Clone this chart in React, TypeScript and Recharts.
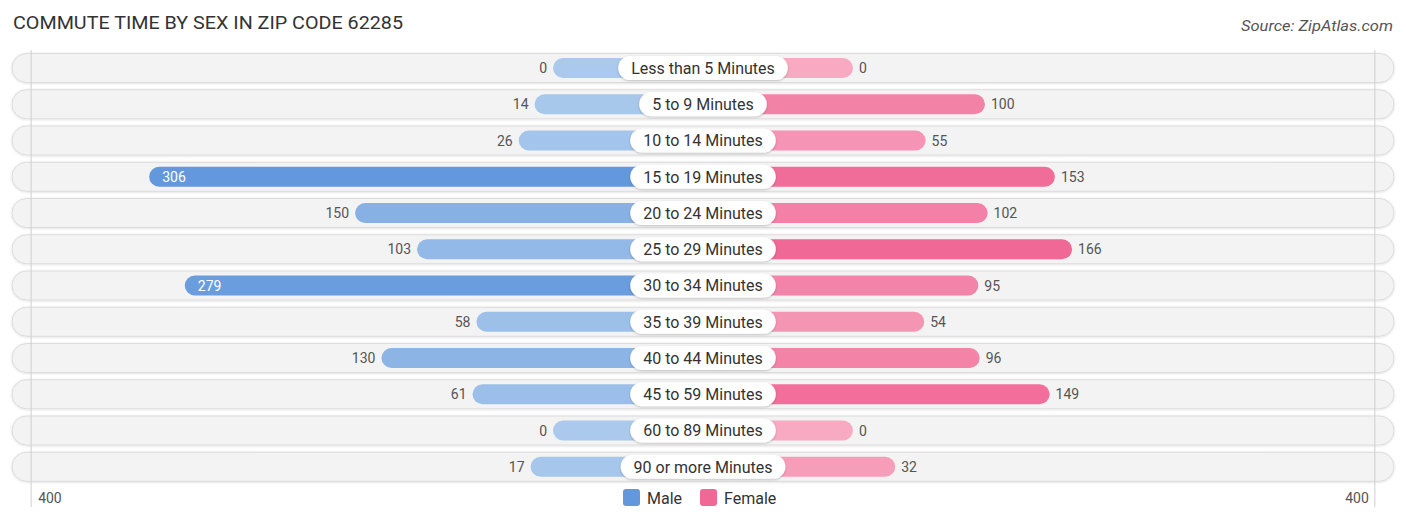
import React from "react";
import { BarChart, Bar, XAxis, YAxis, LabelList, ReferenceLine } from "recharts";

const categories = [
  "Less than 5 Minutes",
  "5 to 9 Minutes",
  "10 to 14 Minutes",
  "15 to 19 Minutes",
  "20 to 24 Minutes",
  "25 to 29 Minutes",
  "30 to 34 Minutes",
  "35 to 39 Minutes",
  "40 to 44 Minutes",
  "45 to 59 Minutes",
  "60 to 89 Minutes",
  "90 or more Minutes",
];
const maleValues = [0, 14, 26, 306, 150, 103, 279, 58, 130, 61, 0, 17];
const femaleValues = [0, 100, 55, 153, 102, 166, 95, 54, 96, 149, 0, 32];
const axisLabel = "400";
const title = "COMMUTE TIME BY SEX IN ZIP CODE 62285";
const source = "Source: ZipAtlas.com";

// layout constants (data units on the x scale)
const OFFSET = 113.6; // part of each bar hidden under the centre label
const DOMAIN_HALF = 523.5;
const GRID_EDGE = 509;

const FONT = "Roboto, 'Open Sans', sans-serif";

const rows = categories.map((cat, i) => ({
  cat,
  male: maleValues[i],
  female: femaleValues[i],
}));

const maleMax = Math.max(...maleValues);
const femaleMax = Math.max(...femaleValues);
const overallMax = Math.max(maleMax, femaleMax);

const MALE_LIGHT = [170, 201, 236];
const MALE_DARK = [99, 153, 220];
const FEMALE_LIGHT = [248, 170, 195];
const FEMALE_DARK = [240, 104, 149];

function mix(a: number[], b: number[], t: number) {
  const c = a.map((v, i) => Math.round(v + (b[i] - v) * t));
  return `rgb(${c[0]},${c[1]},${c[2]})`;
}
function barColor(series: "male" | "female", v: number) {
  if (series === "male") return mix(MALE_LIGHT, MALE_DARK, v / maleMax);
  return mix(FEMALE_LIGHT, FEMALE_DARK, v / femaleMax);
}

let measureCtx: CanvasRenderingContext2D | null = null;
function textWidth(s: string, font: string) {
  if (typeof document !== "undefined") {
    if (!measureCtx) measureCtx = document.createElement("canvas").getContext("2d");
    if (measureCtx) {
      measureCtx.font = font;
      return measureCtx.measureText(s).width;
    }
  }
  return s.length * 7.5;
}

const BarShape = (props: any) => {
  const { x, y, width, height, index, series } = props;
  const x0 = Math.min(x, x + width);
  const w = Math.abs(width);
  const v = series === "male" ? maleValues[index] : femaleValues[index];
  return (
    <rect
      x={x0}
      y={y}
      width={w}
      height={height}
      rx={height / 2}
      ry={height / 2}
      fill={barColor(series, v)}
    />
  );
};

const RowPill = (props: any) => {
  const { x, y, width, height, index } = props;
  const h = 29;
  const cy = y + height / 2;
  return (
    <g>
      {index === 0 && (
        <defs>
          <filter id="lblShadow" x="-20%" y="-50%" width="140%" height="200%">
            <feDropShadow dx="0" dy="1" stdDeviation="1.2" floodColor="#000" floodOpacity="0.22" />
          </filter>
          <filter id="pillShadow" x="-5%" y="-30%" width="110%" height="160%">
            <feDropShadow dx="0" dy="0.5" stdDeviation="0.8" floodColor="#000" floodOpacity="0.15" />
          </filter>
        </defs>
      )}
      <rect
        x={x}
        y={cy - h / 2}
        width={width}
        height={h}
        rx={h / 2}
        ry={h / 2}
        fill="#f3f3f3"
        stroke="#dcdcdc"
        strokeWidth={1}
        filter="url(#pillShadow)"
      />
    </g>
  );
};

const CategoryLabel = (props: any) => {
  const vb = props.viewBox || props;
  const { index } = props;
  const cx = Math.min(vb.x, vb.x + vb.width);
  const cy = vb.y + vb.height / 2;
  const label = categories[index];
  const tw = textWidth(label, `16px ${FONT}`);
  const w = tw + 26;
  const h = 24;
  return (
    <g>
      <rect
        x={cx - w / 2}
        y={cy - h / 2}
        width={w}
        height={h}
        rx={h / 2}
        ry={h / 2}
        fill="#ffffff"
        filter="url(#lblShadow)"
      />
      <text
        x={cx}
        y={cy}
        dy="0.36em"
        textAnchor="middle"
        fontFamily={FONT}
        fontSize={16}
        fill="#333"
      >
        {label}
      </text>
    </g>
  );
};

const MaleValue = (props: any) => {
  const vb = props.viewBox || props;
  const { index } = props;
  const v = maleValues[index];
  const left = Math.min(vb.x, vb.x + vb.width);
  const cy = vb.y + vb.height / 2;
  const inside = v / overallMax > 0.8;
  return (
    <text
      x={inside ? left + 13 : left - 6}
      y={cy}
      dy="0.36em"
      textAnchor={inside ? "start" : "end"}
      fontFamily={FONT}
      fontSize={14}
      fill={inside ? "#ffffff" : "#555"}
    >
      {v}
    </text>
  );
};

const FemaleValue = (props: any) => {
  const vb = props.viewBox || props;
  const { index } = props;
  const v = femaleValues[index];
  const right = Math.max(vb.x, vb.x + vb.width);
  const cy = vb.y + vb.height / 2;
  const inside = v / overallMax > 0.8;
  return (
    <text
      x={inside ? right - 13 : right + 6}
      y={cy}
      dy="0.36em"
      textAnchor={inside ? "end" : "start"}
      fontFamily={FONT}
      fontSize={14}
      fill={inside ? "#ffffff" : "#555"}
    >
      {v}
    </text>
  );
};

const AxisTick = (props: any) => {
  const { x, y, payload } = props;
  const isLeft = payload.value < 0;
  return (
    <g>
      <line x1={x} x2={x} y1={y} y2={y + 22} stroke="#cfcfcf" strokeWidth={1} />
      <text
        x={isLeft ? x + 7 : x - 6}
        y={y + 18}
        textAnchor={isLeft ? "start" : "end"}
        fontFamily={FONT}
        fontSize={14}
        fill="#555"
      >
        {axisLabel}
      </text>
    </g>
  );
};

export default function App() {
  return (
    <div style={{ position: "absolute", left: 0, top: 0, width: 1406, height: 523, background: "#fff" }}>
      <BarChart
        width={1406}
        height={523}
        data={rows}
        layout="vertical"
        stackOffset="sign"
        barSize={20}
        margin={{ top: 50, right: 12, bottom: 8, left: 12 }}
      >
        <XAxis
          type="number"
          domain={[-DOMAIN_HALF, DOMAIN_HALF]}
          ticks={[-GRID_EDGE, GRID_EDGE]}
          interval={0}
          axisLine={false}
          tickLine={false}
          tickSize={0}
          tickMargin={0}
          height={30}
          tick={<AxisTick />}
        />
        <YAxis type="category" dataKey="cat" hide />
        <Bar
          dataKey={(d: any) => -(d.male + OFFSET)}
          stackId="a"
          isAnimationActive={false}
          background={(p: any) => <RowPill {...p} />}
          shape={(p: any) => <BarShape {...p} series="male" />}
        >
          <LabelList dataKey="male" content={(p: any) => <MaleValue {...p} />} />
        </Bar>
        <Bar
          dataKey={(d: any) => d.female + OFFSET}
          stackId="a"
          isAnimationActive={false}
          shape={(p: any) => <BarShape {...p} series="female" />}
        >
          <LabelList dataKey="female" content={(p: any) => <FemaleValue {...p} />} />
          <LabelList dataKey="cat" content={(p: any) => <CategoryLabel {...p} />} />
        </Bar>
        <ReferenceLine x={-GRID_EDGE} stroke="#cfcfcf" strokeWidth={1} />
        <ReferenceLine x={GRID_EDGE} stroke="#cfcfcf" strokeWidth={1} />
      </BarChart>
      <svg
        width={1406}
        height={523}
        style={{ position: "absolute", left: 0, top: 0, pointerEvents: "none" }}
      >
        <text
          x={13}
          y={29}
          fontFamily={FONT}
          fontSize={18}
          fill="#333"
          textLength={390}
          lengthAdjust="spacingAndGlyphs"
        >
          {title}
        </text>
        <text
          x={1393}
          y={31}
          textAnchor="end"
          fontFamily={FONT}
          fontSize={15}
          fontStyle="italic"
          fill="#555"
          textLength={152}
          lengthAdjust="spacingAndGlyphs"
        >
          {source}
        </text>
        <rect x={623} y={489} width={17} height={17} rx={3} fill="rgb(99,153,220)" />
        <text x={647} y={504} fontFamily={FONT} fontSize={16} fill="#333">
          Male
        </text>
        <rect x={700} y={489} width={17} height={17} rx={3} fill="rgb(240,104,149)" />
        <text x={724} y={504} fontFamily={FONT} fontSize={16} fill="#333">
          Female
        </text>
      </svg>
    </div>
  );
}
